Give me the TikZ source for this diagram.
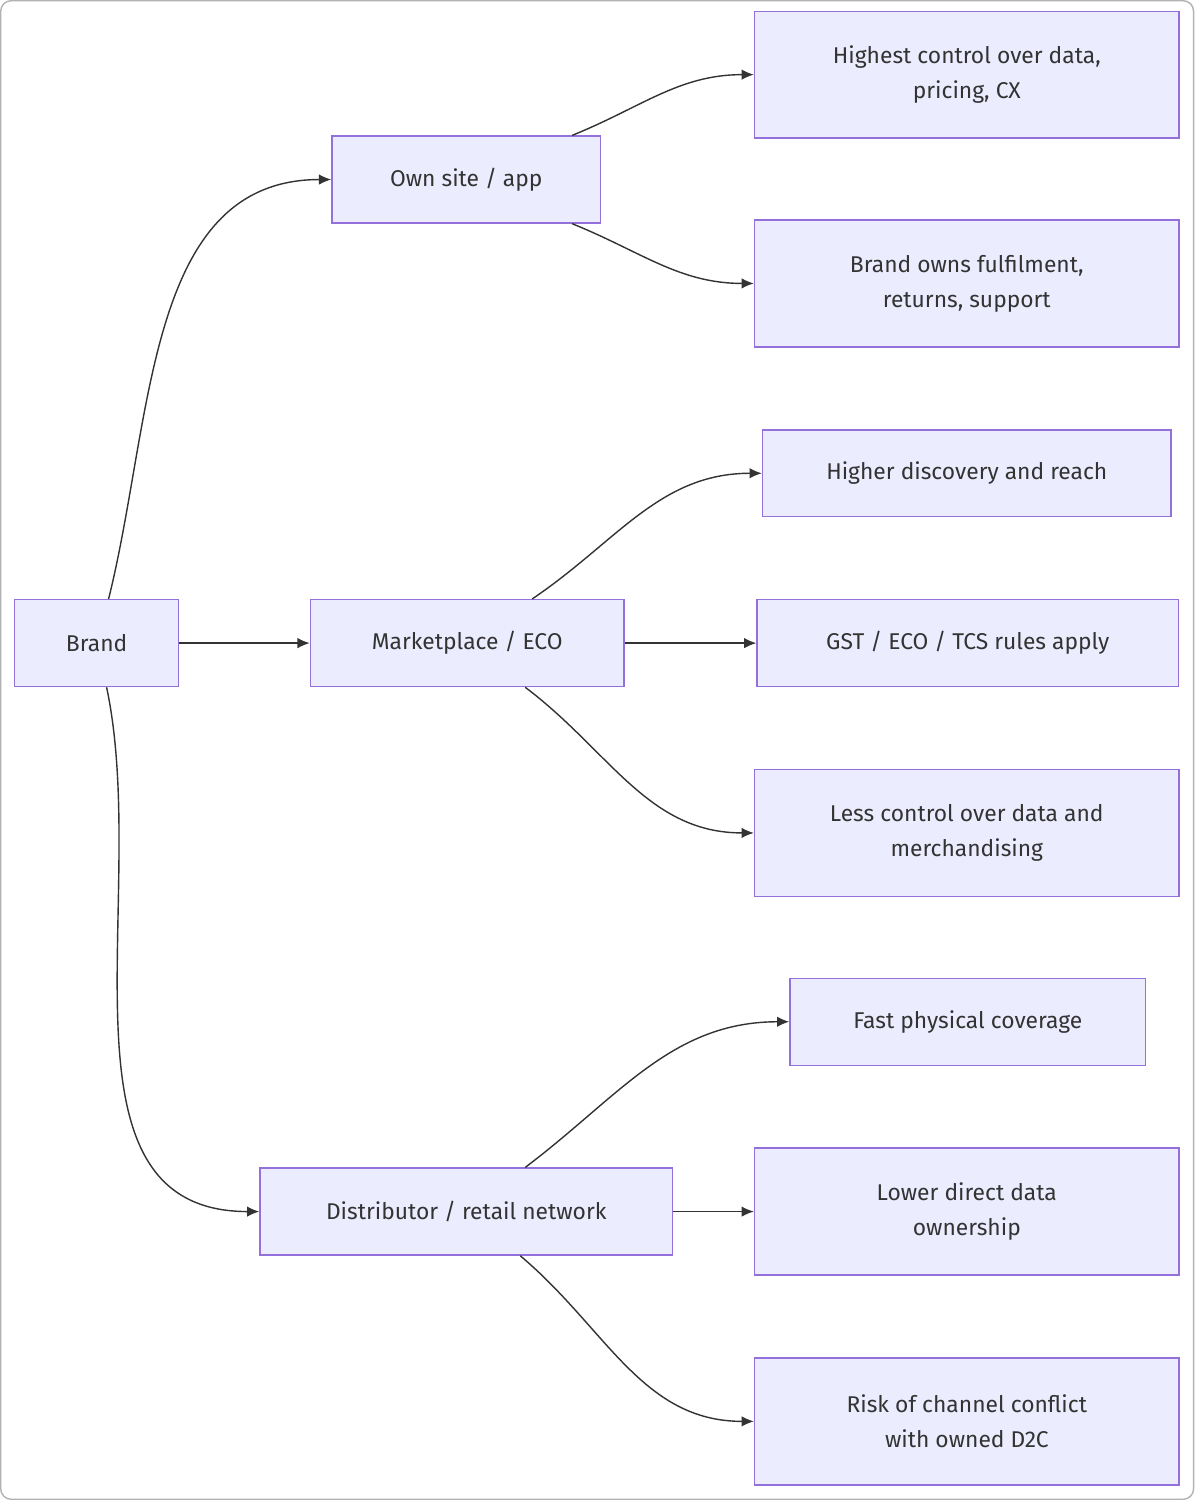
\documentclass[tikz,border=0pt]{standalone}
\usepackage{fontspec}
\setmainfont{Fira Sans}
\usetikzlibrary{arrows.meta}
\begin{document}
\begin{tikzpicture}[x=0.02cm,y=-0.02cm,
 box/.style={draw=bx,fill=bf,line width=0.8pt,minimum height=1.74cm,align=center,font=\fontsize{13}{20}\selectfont,text=black!80,inner sep=0pt},
 tall/.style={minimum height=2.54cm},
 ar/.style={draw=black!80,line width=0.8pt,-{Latex[length=7pt,width=6pt]}}]
\definecolor{bx}{HTML}{9370DB}\definecolor{bf}{HTML}{ECECFF}
\draw[gray!60,rounded corners=6pt,line width=0.8pt] (0,0) rectangle (1194,1500);
\useasboundingbox (0,0) rectangle (1194,1500);
\node[box,minimum width=3.28cm] (brand) at (96,643) {Brand};
\node[box,minimum width=5.38cm] (own) at (466,179) {Own site / app};
\node[box,minimum width=6.28cm] (mkt) at (467,643) {Marketplace / ECO};
\node[box,minimum width=8.26cm] (dist) at (466,1212) {Distributor / retail network};
\node[box,tall,minimum width=8.5cm] (h1) at (967,74) {Highest control over data,\\pricing, CX};
\node[box,tall,minimum width=8.5cm] (h2) at (967,283) {Brand owns fulfilment,\\returns, support};
\node[box,minimum width=8.18cm] (h3) at (967,473) {Higher discovery and reach};
\node[box,minimum width=8.44cm] (h4) at (968,643) {GST / ECO / TCS rules apply};
\node[box,tall,minimum width=8.5cm] (h5) at (967,833) {Less control over data and\\merchandising};
\node[box,minimum width=7.12cm] (h6) at (968,1022) {Fast physical coverage};
\node[box,tall,minimum width=8.5cm] (h7) at (967,1212) {Lower direct data\\ownership};
\node[box,tall,minimum width=8.5cm] (h8) at (967,1422) {Risk of channel conflict\\with owned D2C};
\draw[ar] ([xshift=0.24cm]brand.north) to[out=76,in=180] (own.west);
\draw[ar] (brand.east) -- (mkt.west);
\draw[ar] ([xshift=0.2cm]brand.south) to[out=-78,in=180] (dist.west);
\draw[ar] ([xshift=2.12cm]own.north) to[out=22,in=180] (h1.west);
\draw[ar] ([xshift=2.12cm]own.south) to[out=-22,in=180] (h2.west);
\draw[ar] ([xshift=1.3cm]mkt.north) to[out=34,in=180] (h3.west);
\draw[ar] (mkt.east) -- (h4.west);
\draw[ar] ([xshift=1.16cm]mkt.south) to[out=-37,in=180] (h5.west);
\draw[ar] ([xshift=1.18cm]dist.north) to[out=37,in=180] (h6.west);
\draw[ar] (dist.east) -- (h7.west);
\draw[ar] ([xshift=1.08cm]dist.south) to[out=-40,in=180] (h8.west);
\end{tikzpicture}
\end{document}
